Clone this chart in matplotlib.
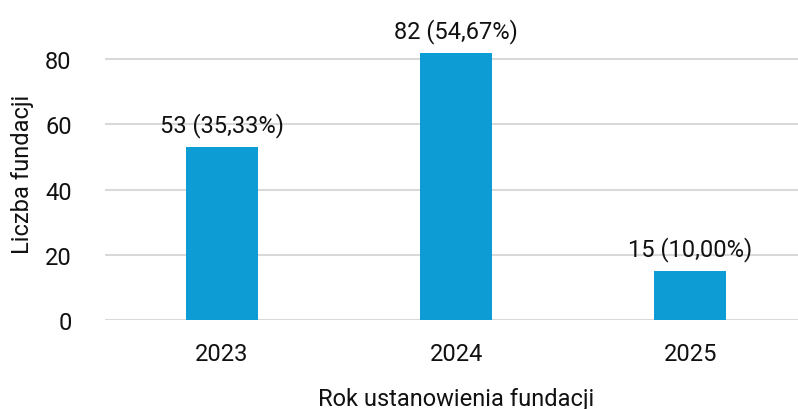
# liczba fundacji wg roku ustanowienia - bar chart
import matplotlib.pyplot as plt
from matplotlib import font_manager

years = ['2023', '2024', '2025']
counts = [53, 82, 15]
shares = ['35,33%', '54,67%', '10,00%']

names = {f.name for f in font_manager.fontManager.ttflist}
fam = 'Liberation Sans Narrow' if 'Liberation Sans Narrow' in names else 'Roboto'
plt.rcParams['font.family'] = [fam, 'DejaVu Sans']

fig = plt.figure(figsize=(7.98, 4.10), dpi=100)
ax = fig.add_axes([0.1316, 0.217, 0.88, 0.716])

x = range(len(years))
bars = ax.bar(x, counts, width=0.31, color='#0e9cd5', zorder=3)
for b, c, s in zip(bars, counts, shares):
    ax.text(b.get_x() + b.get_width() / 2, c + 3, f'{c} ({s})',
            ha='center', va='bottom', fontsize=17, color='#111111')

ax.set_xlim(-0.5, 2.5)
ax.set_ylim(0, 90)
ax.set_yticks([0, 20, 40, 60, 80])
ax.set_xticks(list(x))
ax.set_xticklabels(years)
ax.yaxis.grid(True, color='#d9d9d9', linewidth=1.5, zorder=0)
for sp in ax.spines.values():
    sp.set_visible(False)
ax.tick_params(length=0, labelsize=17, colors='#111111')
ax.tick_params(axis='x', pad=16)
ax.tick_params(axis='y', pad=24)
ax.set_xlabel('Rok ustanowienia fundacji', fontsize=17, color='#111111', labelpad=16)
ax.set_ylabel('Liczba fundacji', fontsize=17, color='#111111', labelpad=8)

fig.savefig('out.png', dpi=100)
